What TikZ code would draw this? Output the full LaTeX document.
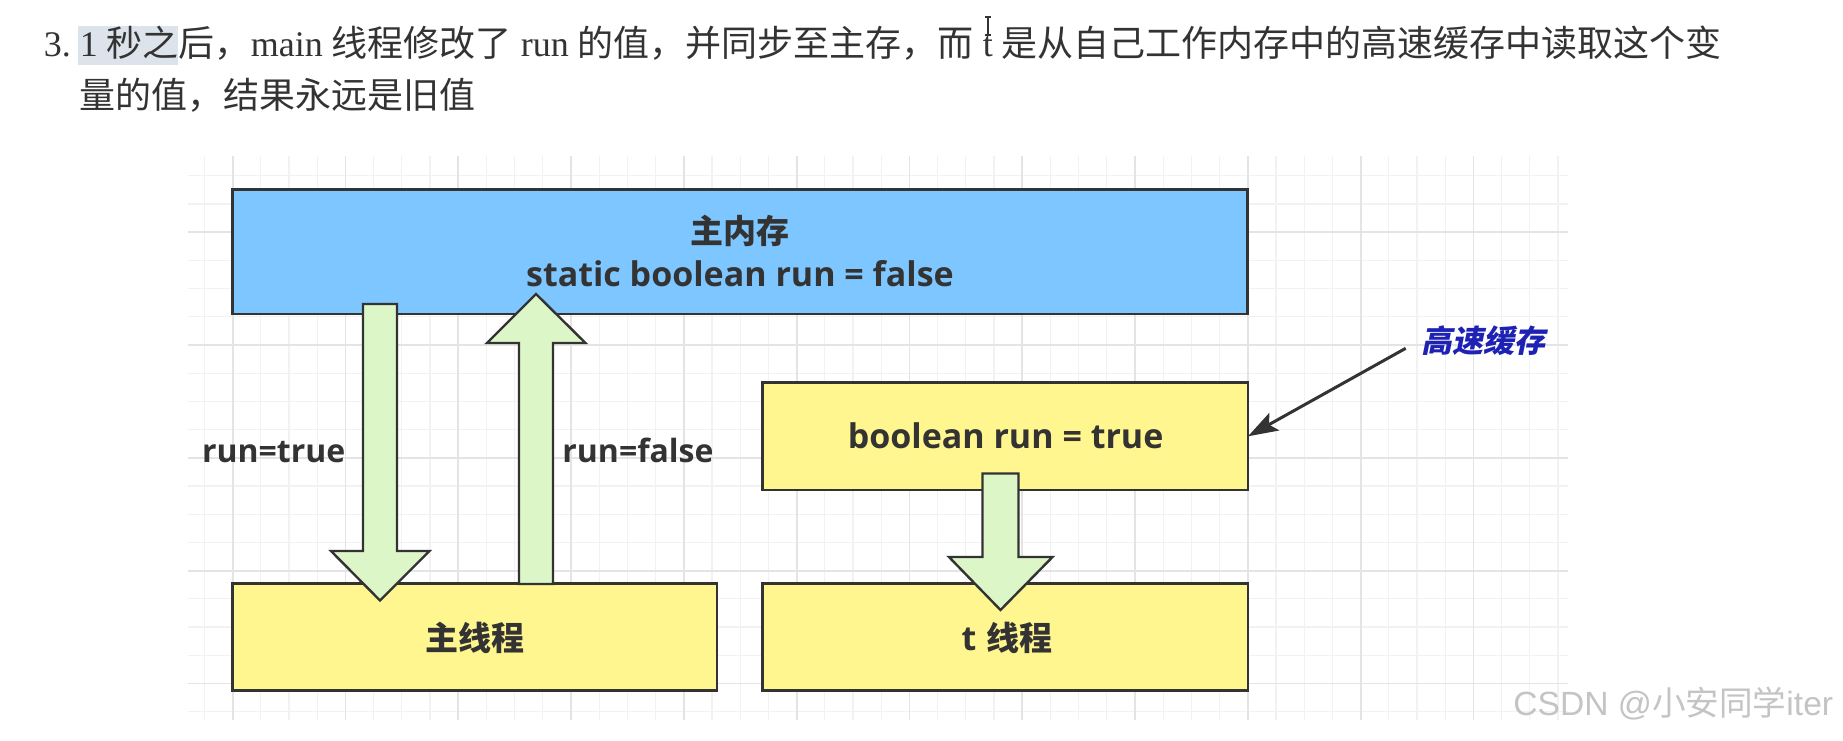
\documentclass[tikz,border=0pt]{standalone}
\usepackage{fontspec}
\setmainfont{Liberation Serif}
\newfontfamily\cjk{Noto Sans CJK SC}
\newfontfamily\osans{Open Sans}
\newfontfamily\lsans{Liberation Sans}
\newfontfamily\cjkit{Noto Sans CJK SC}[FakeSlant=0.2]
\usetikzlibrary{arrows.meta}
\definecolor{bluefill}{HTML}{7EC6FF}
\definecolor{yellowfill}{HTML}{FFF68F}
\definecolor{greenfill}{HTML}{DCF6C8}
\definecolor{edge}{HTML}{333333}
\definecolor{txt}{HTML}{333333}
\definecolor{gridminor}{HTML}{F2F2F2}
\definecolor{gridmajor}{HTML}{E4E4E4}
\definecolor{callblue}{HTML}{1E22B4}
\definecolor{hl}{HTML}{DCE3EB}
\definecolor{wmark}{HTML}{C4C4C4}
\newcommand{\dlat}{\osans\bfseries\fontsize{17pt}{20pt}\selectfont}
\newcommand{\dlab}{\osans\bfseries\fontsize{16pt}{20pt}\selectfont}
\newcommand{\dcjk}{\cjk\bfseries\fontsize{16.5pt}{20pt}\selectfont}
\newcommand{\ttlfont}{\fontsize{18pt}{21pt}\selectfont}
\begin{document}
\begin{tikzpicture}[x=0.5pt,y=-0.5pt,
  box/.style={draw=edge, line width=1.4pt, inner sep=0pt, outer sep=0pt},
  blockarrow/.style={draw=edge, fill=greenfill, line width=1.2pt, line join=miter},
  lbl/.style={anchor=base, text=txt, inner sep=0pt}]
\useasboundingbox (0,0) rectangle (1843,740);
\fill[white] (0,0) rectangle (1843,740);
% grid
\foreach \k in {-1,...,47} {
  \pgfmathsetmacro\xx{232.6+28.2*\k}
  \draw[gridminor, line width=0.6pt] (\xx,156) -- (\xx,720);
}
\foreach \k in {-2,...,17} {
  \pgfmathsetmacro\yy{232.2+28.2*\k}
  \draw[gridminor, line width=0.6pt] (188,\yy) -- (1568,\yy);
}
\foreach \k in {0,4,...,44} {
  \pgfmathsetmacro\xx{232.6+28.2*\k}
  \draw[gridmajor, line width=0.9pt] (\xx,156) -- (\xx,720);
}
\foreach \k in {0,4,8,12,16} {
  \pgfmathsetmacro\yy{232.2+28.2*\k}
  \draw[gridmajor, line width=0.9pt] (188,\yy) -- (1568,\yy);
}
% title
\fill[hl] (78,26) rectangle (178,65);
\node[anchor=base west, inner sep=0pt, text=txt] (title1) at (43.5,56.4) {\ttlfont 3.\ 1\ {\cjk 秒之后，}main\ {\cjk 线程修改了}\ run\ {\cjk 的值，并同步至主存，而}\ t\ {\cjk 是从自己工作内存中的高速缓存中读取这个变}};
\node[anchor=base west, inner sep=0pt, text=txt] (title2) at (78.7,108) {\ttlfont\cjk 量的值，结果永远是旧值};
\draw[txt, line width=0.6pt] (985,17) -- (991,17) (988,17) -- (988,35) (985,35) -- (991,35);
% boxes
\node[box, fill=bluefill, minimum width=507.5pt, minimum height=62.35pt] (mem) at (740,251.7) {};
\node[box, fill=yellowfill, minimum width=242.2pt, minimum height=53.5pt] (mainth) at (474.8,637) {};
\node[box, fill=yellowfill, minimum width=242.6pt, minimum height=53.65pt] (cache) at (1005.4,436.3) {};
\node[box, fill=yellowfill, minimum width=242.6pt, minimum height=53.5pt] (tth) at (1005.4,637) {};
% block arrows
\draw[blockarrow] (363,304) -- (397,304) -- (397,551) -- (429.5,551) -- (380,600.5) -- (331,551) -- (363,551) -- cycle;
\draw[blockarrow] (519,584) -- (519,343) -- (487,343) -- (536,294) -- (585.5,343) -- (553,343) -- (553,584) -- cycle;
\draw[blockarrow] (982.5,473.5) -- (1018.5,473.5) -- (1018.5,557) -- (1052.5,557) -- (1000.5,610) -- (949,557) -- (982.5,557) -- cycle;
% texts
\node[lbl] (memt1) at (740,243) {\dcjk 主内存};
\node[lbl] (memt2) at (740,286.7) {\dlat static boolean run = false};
\node[lbl] (rtrue) at (273.7,462.7) {\dlab run=true};
\node[lbl] (rfalse) at (638,462.7) {\dlab run=false};
\node[lbl] (maint) at (474.7,650.5) {\dcjk 主线程};
\node[lbl] (cachet) at (1005.6,448) {\dlat boolean run = true};
\node[lbl] (tt) at (1007,650.5) {{\dlat t}\hspace{5pt}{\dcjk 线程}};
% callout
\node[anchor=center, inner sep=0pt, text=callblue] (calloutlbl) at (1483,341) {\cjkit\bfseries\fontsize{15.5pt}{18pt}\selectfont 高速缓存};
\coordinate (cstart) at (1405.7,348.3);
\draw[edge, line width=1.5pt, -{Stealth[length=15pt,width=10pt,inset=3pt]}] (cstart) -- (cache.east);
% watermark
\node[anchor=base west, inner sep=0pt, text=wmark] (wm) at (1513,715) {\lsans\fontsize{16.8pt}{19pt}\selectfont CSDN @{\cjk 小安同学}iter};
\end{tikzpicture}
\end{document}
